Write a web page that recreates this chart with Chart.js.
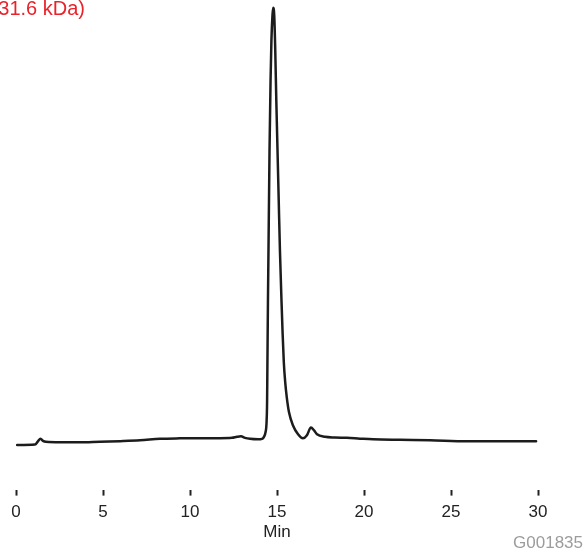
<!DOCTYPE html>
<html>
<head>
<meta charset="utf-8">
<script src="https://cdn.jsdelivr.net/npm/chart.js@4/dist/chart.umd.min.js"></script>
<style>
  html, body { margin: 0; padding: 0; background: #ffffff; }
  #wrap { width: 584px; height: 550px; position: relative; }
  canvas { display: block; }
</style>
</head>
<body>
<div id="wrap"><canvas id="chromatogram" width="584" height="550"></canvas></div>
<script>
// Retention time (min)
const retentionTime = [0.06,1.09,1.26,1.41,1.55,1.72,2.53,3.68,4.83,5.98,7.13,8.28,9.43,10.57,11.72,12.41,12.70,12.93,13.16,13.45,13.91,14.14,14.25,14.34,14.40,14.43,14.45,14.48,14.51,14.57,14.63,14.68,14.74,14.78,14.84,14.90,14.96,15.03,15.10,15.17,15.26,15.32,15.39,15.47,15.56,15.69,15.92,16.21,16.49,16.72,16.95,17.13,17.30,17.76,18.33,19.02,19.77,20.52,22.07,23.79,25.92,27.82,29.89];
// Detector response (relative units)
const response = [9.1,9.2,9.86,10.4,9.96,9.75,9.65,9.65,9.79,9.9,10.06,10.37,10.47,10.51,10.51,10.57,10.78,10.88,10.57,10.37,10.27,10.37,10.78,11.7,13.76,17.86,26.1,38.4,48.7,69.2,83.6,91.8,96.9,98.4,96.9,89.7,79.5,69.2,58.9,48.7,38.4,32.2,26.1,22.0,18.9,15.8,13.1,11.3,10.47,11.1,12.7,12.1,11.3,10.78,10.64,10.57,10.41,10.27,10.16,10.06,9.86,9.86,9.86];
const timeTicks = [0, 5, 10, 15, 20, 25, 30];
const peakLabel = "31.6 kDa)";
const figureCode = "G001835";
const axisTitle = "Min";

const points = retentionTime.map((t, i) => ({ x: t, y: response[i] }));

// Header label and figure code drawn onto the canvas
const annotations = {
  id: 'annotations',
  afterDraw(chart) {
    const ctx = chart.ctx;
    ctx.save();
    ctx.font = '20px "Liberation Sans", Arial, sans-serif';
    ctx.fillStyle = '#e8232b';
    ctx.textAlign = 'right';
    ctx.textBaseline = 'alphabetic';
    ctx.fillText(peakLabel, 85, 15);
    ctx.font = '17px "Liberation Sans", Arial, sans-serif';
    ctx.fillStyle = '#9c9c9c';
    ctx.fillText(figureCode, 583, 548);
    ctx.restore();
  }
};

new Chart(document.getElementById('chromatogram'), {
  type: 'line',
  data: {
    datasets: [{
      data: points,
      borderColor: '#1c1c1c',
      borderWidth: 2.5,
      pointRadius: 0,
      cubicInterpolationMode: 'monotone',
      fill: false,
      borderJoinStyle: 'round',
      borderCapStyle: 'round'
    }]
  },
  options: {
    responsive: false,
    animation: false,
    devicePixelRatio: 1,
    layout: { padding: { left: 16, right: 46, top: 0, bottom: 3.4 } },
    plugins: { legend: { display: false }, tooltip: { enabled: false }, title: { display: false } },
    scales: {
      x: {
        type: 'linear',
        min: 0,
        max: 30,
        afterBuildTicks(scale) { scale.ticks = timeTicks.map(v => ({ value: v })); },
        border: { display: false },
        grid: {
          display: true,
          drawOnChartArea: false,
          drawTicks: true,
          tickLength: 6,
          tickWidth: 2,
          tickColor: '#222222'
        },
        ticks: {
          color: '#222222',
          padding: 8,
          maxRotation: 0,
          font: { family: '"Liberation Sans", Arial, sans-serif', size: 17, lineHeight: 1 }
        },
        title: {
          display: true,
          text: axisTitle,
          color: '#222222',
          padding: { top: -5, bottom: 6 },
          font: { family: '"Liberation Sans", Arial, sans-serif', size: 17, lineHeight: 1 }
        }
      },
      y: {
        display: false,
        min: 0,
        max: 100
      }
    }
  },
  plugins: [annotations]
});
</script>
</body>
</html>
